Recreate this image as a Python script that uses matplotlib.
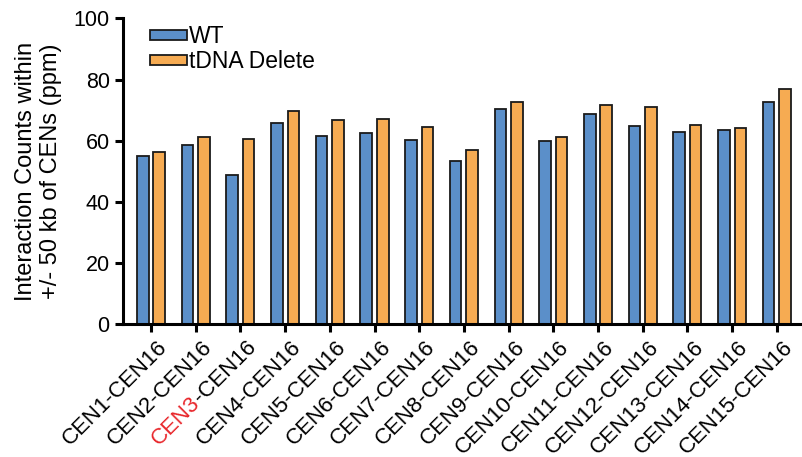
"""
Centromere interaction counts, WT vs tDNA delete.
"""

import matplotlib
matplotlib.use('Agg')
import matplotlib.pyplot as plt
import matplotlib.transforms as mtransforms
import numpy as np

plt.rcParams['font.family'] = ['Liberation Sans', 'DejaVu Sans']
plt.rcParams['font.size'] = 15.5

# Data
pairs = ['CEN1', 'CEN2', 'CEN3', 'CEN4', 'CEN5', 'CEN6', 'CEN7', 'CEN8',
         'CEN9', 'CEN10', 'CEN11', 'CEN12', 'CEN13', 'CEN14', 'CEN15']
partner = 'CEN16'
wt = [55.0, 58.6, 48.9, 65.9, 61.6, 62.5, 60.2, 53.5,
      70.5, 59.8, 68.6, 64.9, 62.7, 63.5, 72.6]
tdna = [56.2, 61.3, 60.6, 69.6, 66.9, 67.2, 64.4, 57.0,
        72.6, 61.1, 71.7, 71.0, 65.1, 64.2, 76.9]
highlight = 'CEN3'

blue = '#5b8fc9'
orange = '#f6ab52'

fig = plt.figure(figsize=(8.03, 4.57), dpi=100)
ax = fig.add_axes([0.153, 0.29, 0.845, 0.67])

x = np.arange(len(pairs))
w = 0.26
ax.bar(x - 0.185, wt, w, color=blue, edgecolor='#1a1a1a', linewidth=1.3, label='WT')
ax.bar(x + 0.185, tdna, w, color=orange, edgecolor='#1a1a1a', linewidth=1.3, label='tDNA Delete')

ax.set_ylim(0, 100)
ax.set_yticks([0, 20, 40, 60, 80, 100])
ax.set_xlim(-0.63, len(pairs) - 0.45)
ax.set_ylabel('Interaction Counts within\n+/- 50 kb of CENs (ppm)', fontsize=17, labelpad=8)

for s in ['top', 'right']:
    ax.spines[s].set_visible(False)
for s in ['left', 'bottom']:
    ax.spines[s].set_linewidth(2.2)
ax.tick_params(axis='both', width=2.2, length=6, direction='out', labelsize=15.5)
ax.tick_params(axis='x', pad=8, labelsize=16)

ax.set_xticks(x)
labels = [('-' + partner) if p == highlight else (p + '-' + partner) for p in pairs]
tl = ax.set_xticklabels(labels, rotation=45, ha='right', va='center', rotation_mode='anchor')
nudge = mtransforms.ScaledTranslation(13 / 100, 0, fig.dpi_scale_trans)
for lab in tl:
    lab.set_transform(lab.get_transform() + nudge)

# red prefix for the highlighted pair, placed just before "-CEN16"
fig.canvas.draw()
renderer = fig.canvas.get_renderer()
i = pairs.index(highlight)
lab = tl[i]
tmp = fig.text(0, 0, lab.get_text(), fontsize=lab.get_fontsize())
wpx = tmp.get_window_extent(renderer).width
tmp.remove()
ang = np.deg2rad(45)
shift = mtransforms.ScaledTranslation(-wpx * np.cos(ang) / fig.dpi,
                                      -wpx * np.sin(ang) / fig.dpi,
                                      fig.dpi_scale_trans)
red = ax.text(0, 0, highlight, color='#e8252a', fontsize=lab.get_fontsize(),
              rotation=45, ha='right', va='center', rotation_mode='anchor',
              transform=lab.get_transform() + shift)
red.set_position(lab.get_position())

ax.legend(loc='upper left', bbox_to_anchor=(0.04, 0.978), frameon=False,
          borderpad=0, borderaxespad=0,
          handlelength=1.6, handleheight=0.3, handletextpad=0.1,
          labelspacing=0.1, fontsize=16.5)

plt.savefig('out.png', dpi=100)
